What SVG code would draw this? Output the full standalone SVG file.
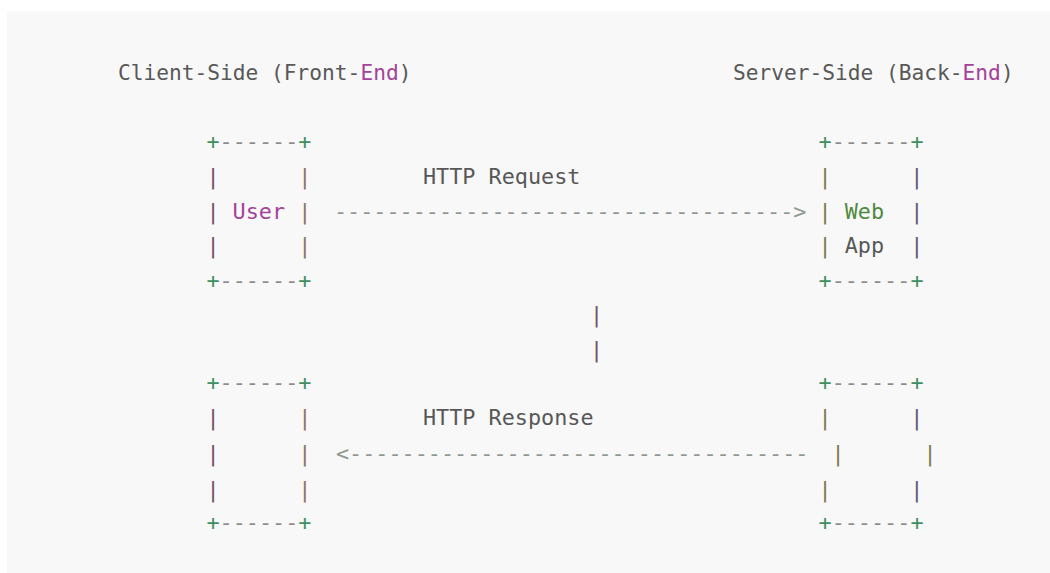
<svg xmlns="http://www.w3.org/2000/svg" width="1050" height="573" viewBox="0 0 1050 573">
<style>
  .m { font-family: "DejaVu Sans Mono", "Liberation Mono", monospace; font-size: 21.8px; fill: #585858; }
  .h { font-size: 21.2px; }
  .pl { fill: #3f8f60; }
  .dh { fill: #8c8c8c; }
  .ar { fill: #8e988e; }
  .mg { fill: #a3439a; }
  .gr { fill: #4f8a3f; }
  .p1 { fill: #6e5566; }
  .p2 { fill: #8c7a56; }
  .p3 { fill: #7c7a4e; }
  .p4 { fill: #5e5a7c; }
</style>
<rect x="0" y="0" width="1050" height="573" fill="#ffffff"/>
<rect x="7" y="11" width="1043" height="562" fill="#f8f8f8"/>

<g id="header-client">
  <text class="m h" x="118" y="80">Client-Side (Front-<tspan class="mg">End</tspan>)</text>
</g>
<g id="header-server">
  <text class="m h" x="733" y="80">Server-Side (Back-<tspan class="mg">End</tspan>)</text>
</g>

<g id="user">
  <text class="m" x="206.4" y="149"><tspan class="pl">+</tspan><tspan class="dh">------</tspan><tspan class="pl">+</tspan></text>
  <text class="m p1" x="206.4" y="184.2">|</text><text class="m p2" x="298.2" y="184.2">|</text>
  <text class="m p1" x="206.4" y="218.8">|</text><text class="m mg" x="232.6" y="218.8">User</text><text class="m p2" x="298.2" y="218.8">|</text>
  <text class="m p1" x="206.4" y="253.4">|</text><text class="m p2" x="298.2" y="253.4">|</text>
  <text class="m" x="206.4" y="288"><tspan class="pl">+</tspan><tspan class="dh">------</tspan><tspan class="pl">+</tspan></text>
</g>

<g id="webapp">
  <text class="m" x="818.5" y="149"><tspan class="pl">+</tspan><tspan class="dh">------</tspan><tspan class="pl">+</tspan></text>
  <text class="m p3" x="818.5" y="184.2">|</text><text class="m p4" x="910.3" y="184.2">|</text>
  <text class="m p3" x="818.5" y="218.8">|</text><text class="m gr" x="844.7" y="218.8">Web</text><text class="m p4" x="910.3" y="218.8">|</text>
  <text class="m p3" x="818.5" y="253.4">|</text><text class="m" x="844.7" y="253.4">App</text><text class="m p4" x="910.3" y="253.4">|</text>
  <text class="m" x="818.5" y="288"><tspan class="pl">+</tspan><tspan class="dh">------</tspan><tspan class="pl">+</tspan></text>
</g>

<g id="client-bottom">
  <text class="m" x="206.4" y="389.5"><tspan class="pl">+</tspan><tspan class="dh">------</tspan><tspan class="pl">+</tspan></text>
  <text class="m p1" x="206.4" y="425">|</text><text class="m p2" x="298.2" y="425">|</text>
  <text class="m p1" x="206.4" y="461">|</text><text class="m p2" x="298.2" y="461">|</text>
  <text class="m p1" x="206.4" y="496.5">|</text><text class="m p2" x="298.2" y="496.5">|</text>
  <text class="m" x="206.4" y="529.5"><tspan class="pl">+</tspan><tspan class="dh">------</tspan><tspan class="pl">+</tspan></text>
</g>

<g id="server-bottom">
  <text class="m" x="818.5" y="389.5"><tspan class="pl">+</tspan><tspan class="dh">------</tspan><tspan class="pl">+</tspan></text>
  <text class="m p3" x="818.5" y="425">|</text><text class="m p4" x="910.3" y="425">|</text>
  <text class="m p3" x="831.6" y="461">|</text><text class="m p3" x="923.4" y="461">|</text>
  <text class="m p3" x="818.5" y="496.5">|</text><text class="m p4" x="910.3" y="496.5">|</text>
  <text class="m" x="818.5" y="529.5"><tspan class="pl">+</tspan><tspan class="dh">------</tspan><tspan class="pl">+</tspan></text>
</g>

<g id="connectors">
  <text class="m" x="423" y="184.2">HTTP Request</text>
  <text class="m ar" x="334" y="218.8">-----------------------------------&gt;</text>
  <text class="m p1" x="590.1" y="322">|</text>
  <text class="m p1" x="590.1" y="357">|</text>
  <text class="m" x="423" y="425">HTTP Response</text>
  <text class="m ar" x="336" y="461">&lt;-----------------------------------</text>
</g>
</svg>
